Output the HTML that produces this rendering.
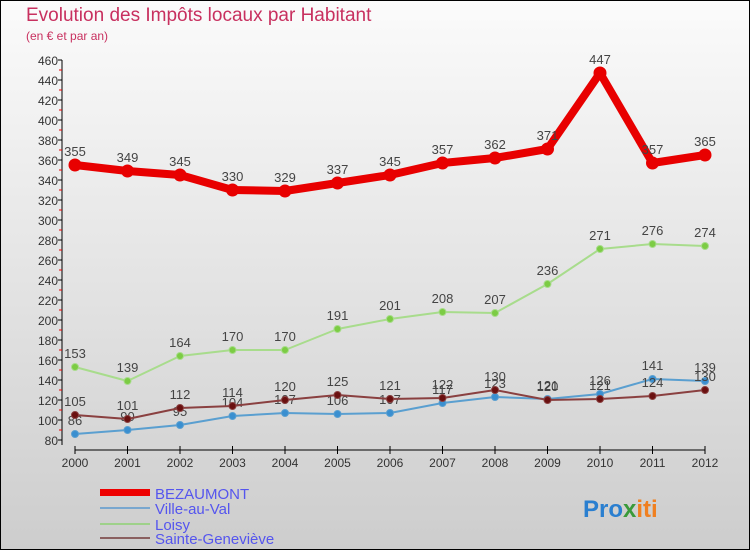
<!DOCTYPE html>
<html><head><meta charset="utf-8"><style>
body{margin:0}
#c{width:750px;height:550px;position:relative;box-sizing:border-box;border:1px solid #000;background:linear-gradient(#fbfbfb,#cdcdcd);font-family:"Liberation Sans",sans-serif;overflow:hidden}
</style></head><body>
<div id="c">
<svg width="750" height="550" style="position:absolute;left:-1px;top:-1px" id="svg">
<text x="26" y="21" font-size="19" fill="#c8305f">Evolution des Impôts locaux par Habitant</text>
<text x="26" y="40" font-size="12" fill="#c8305f">(en € et par an)</text>
<g id="axes"></g><g id="series"></g>
<g>
<rect x="100" y="489" width="50" height="7" fill="#e00"/>
<text x="155" y="499" font-size="15" fill="#5555ee">BEZAUMONT</text>
<rect x="100" y="507" width="50" height="2" fill="#79a7cf"/>
<text x="155" y="514" font-size="15" fill="#5555ee">Ville-au-Val</text>
<rect x="100" y="523" width="50" height="2" fill="#9ed18a"/>
<text x="155" y="530" font-size="15" fill="#5555ee">Loisy</text>
<rect x="100" y="537" width="50" height="2" fill="#8a6060"/>
<text x="155" y="544" font-size="15" fill="#5555ee">Sainte-Geneviève</text>
</g>
<text x="583" y="517" font-size="24" font-weight="bold"><tspan fill="#2a7fd0">Pro</tspan><tspan fill="#3a9a3a">x</tspan><tspan fill="#f08020">iti</tspan></text>
</svg>
</div>
<script>
const years=[2000,2001,2002,2003,2004,2005,2006,2007,2008,2009,2010,2011,2012];
const bezaumont=[355,349,345,330,329,337,345,357,362,371,447,357,365];
const villeAuVal=[86,90,95,104,107,106,107,117,123,121,126,141,139];
const loisy=[153,139,164,170,170,191,201,208,207,236,271,276,274];
const sainteGenevieve=[105,101,112,114,120,125,121,122,130,120,121,124,130];
const yTicks=[80,100,120,140,160,180,200,220,240,260,280,300,320,340,360,380,400,420,440,460];
const NS="http://www.w3.org/2000/svg";
const X=i=>75+i*52.5, Y=v=>60+(460-v)*1;
function mk(t,a,p){const e=document.createElementNS(NS,t);for(const k in a)e.setAttribute(k,a[k]);p.appendChild(e);return e;}
const ax=document.getElementById('axes'),sg=document.getElementById('series');
let yl=mk('line',{x1:62,y1:Y(460),x2:62,y2:Y(80)+5,stroke:'#000'},ax);


yTicks.forEach(v=>{
 const t=mk('text',{x:58,y:Y(v)+5,'font-size':12,fill:'#333','text-anchor':'end'},ax);t.textContent=v;
 
 
 mk('line',{x1:58,y1:Y(v),x2:62,y2:Y(v),stroke:'#000'},ax);
 if(v>80) mk('line',{x1:59,y1:Y(v)+10,x2:62,y2:Y(v)+10,stroke:'#e00'},ax);
});
let xl=mk('line',{x1:X(0),y1:450,x2:X(12),y2:450,stroke:'#000'},ax);


years.forEach((y,i)=>{
 mk('line',{x1:X(i),y1:446,x2:X(i),y2:454,stroke:'#000'},ax);
 const t=mk('text',{x:X(i),y:467,'font-size':12,fill:'#333','text-anchor':'middle'},ax);t.textContent=y;
 
 
});
function series(d,name,col,w,r,dot){
 const g=mk('g',{},sg);
 
 
 const pl=mk('polyline',{points:d.map((v,i)=>X(i)+','+Y(v)).join(' '),fill:'none',stroke:col,'stroke-width':w,'stroke-linejoin':'round'},g);
 
 
 d.forEach((v,i)=>{
  const c=mk('circle',{cx:X(i),cy:Y(v),r:r,fill:dot,stroke:col,'stroke-width':1},g);
  
  
  const t=mk('text',{x:X(i),y:Y(v)-9,'font-size':13,fill:'#444','text-anchor':'middle'},g);t.textContent=v;
  
  
 });
}
series(villeAuVal,'ville-au-val','#5a9fd0',2,3.5,'#3a8fd0');
series(sainteGenevieve,'sainte-genevieve','#8a4040',2,3.5,'#6a1010');
series(loisy,'loisy','#a8dc8c',2,3.5,'#7ccc44');
series(bezaumont,'bezaumont','#e80000',8,6,'#e80000');
</script>
</body></html>
